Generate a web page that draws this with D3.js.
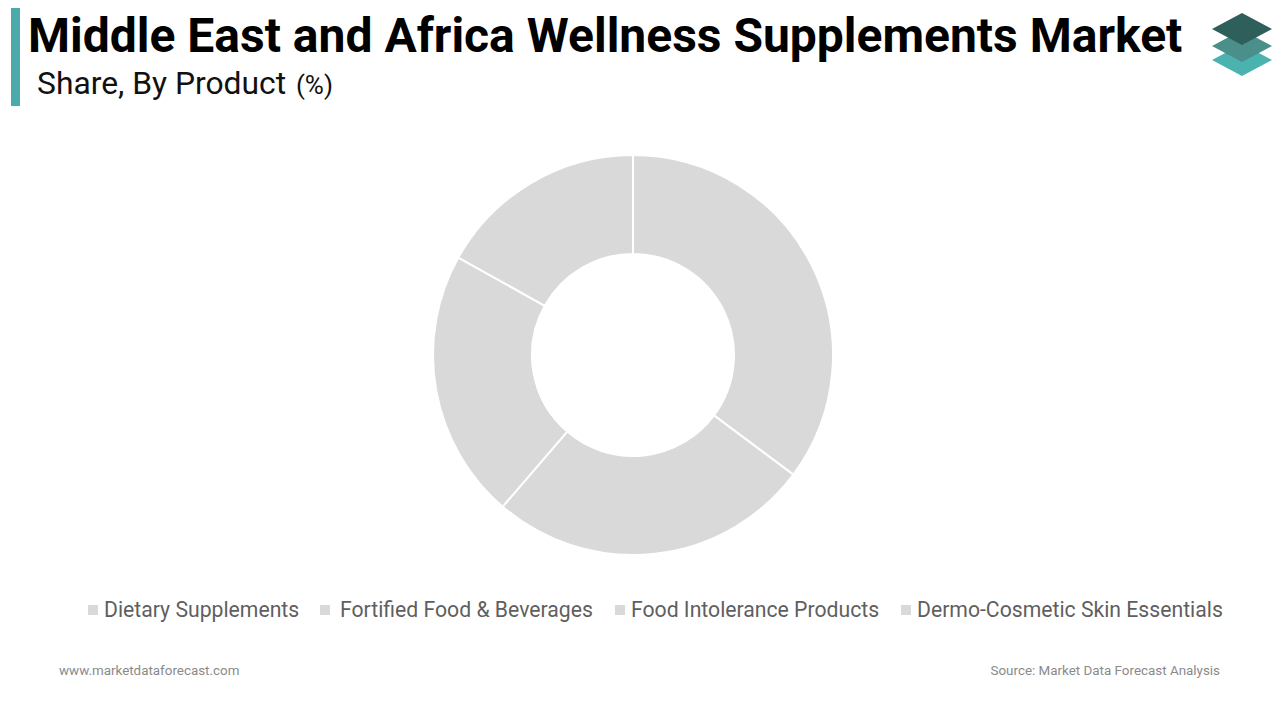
<!DOCTYPE html>
<html>
<head>
<meta charset="utf-8">
<script src="https://cdn.jsdelivr.net/npm/d3@7"></script>
<style>
  html, body { margin: 0; padding: 0; background: #fff; }
  svg { display: block; }
</style>
</head>
<body>
<svg id="chart" width="1280" height="720"></svg>
<script>
const categories = ["Dietary Supplements", "Fortified Food & Beverages", "Food Intolerance Products", "Dermo-Cosmetic Skin Essentials"];
const shares = [35.2, 26.1, 21.8, 16.9];
const colors = ["#d9d9d9", "#d9d9d9", "#d9d9d9", "#d9d9d9"];

const svg = d3.select("#chart");
const font = "Roboto, 'Noto Sans', sans-serif";

// accent bar
svg.append("rect").attr("x", 11).attr("y", 8).attr("width", 9).attr("height", 98).attr("fill", "#4aabaa");

// title
svg.append("text").attr("x", 28).attr("y", 52)
  .attr("font-family", font).attr("font-weight", 700).attr("font-size", 48)
  .attr("fill", "#000").text("Middle East and Africa Wellness Supplements Market");

const sub = svg.append("text").attr("x", 37).attr("y", 94)
  .attr("font-family", font).attr("font-size", 31.8).attr("fill", "#111");
sub.append("tspan").text("Share, By Product ");
sub.append("tspan").attr("dx", 2).attr("font-size", 26).text("(%)");

// logo
const logo = svg.append("g").attr("transform", "translate(1242,0)");
function diamond(cy, color) {
  logo.append("path")
    .attr("d", `M0,${cy-16} L30,${cy} L0,${cy+16} L-30,${cy} Z`)
    .attr("fill", color);
}
diamond(60, "#4ab3b0");
diamond(46, "#4a8f89");
diamond(29, "#2f5f5b");

// donut
const cx = 633, cy = 355, rOuter = 200, rInner = 101;
const pie = d3.pie().sort(null).value(d => d)(shares);
const arc = d3.arc().innerRadius(rInner).outerRadius(rOuter);
const g = svg.append("g").attr("transform", `translate(${cx},${cy})`);
g.selectAll("path").data(pie).enter().append("path")
  .attr("d", arc)
  .attr("fill", (d, i) => colors[i])
  .attr("stroke", "#fff").attr("stroke-width", 2);

// legend
const legendX = [88, 320, 615, 901];
const lg = svg.append("g");
categories.forEach((c, i) => {
  lg.append("rect").attr("x", legendX[i]).attr("y", 605).attr("width", 10).attr("height", 10).attr("fill", colors[i]);
  lg.append("text").attr("x", legendX[i] + (i === 1 ? 20 : 16)).attr("y", 617)
    .attr("font-family", font).attr("font-size", 21.2).attr("fill", "#5f5f5f").text(c);
});

// footer
svg.append("text").attr("x", 59).attr("y", 675).attr("font-family", font).attr("font-size", 13.4)
  .attr("fill", "#8a8a8a").text("www.marketdataforecast.com");
svg.append("text").attr("x", 1220).attr("y", 675).attr("text-anchor", "end").attr("font-family", font).attr("font-size", 13.4)
  .attr("fill", "#8a8a8a").text("Source: Market Data Forecast Analysis");
</script>
</body>
</html>
